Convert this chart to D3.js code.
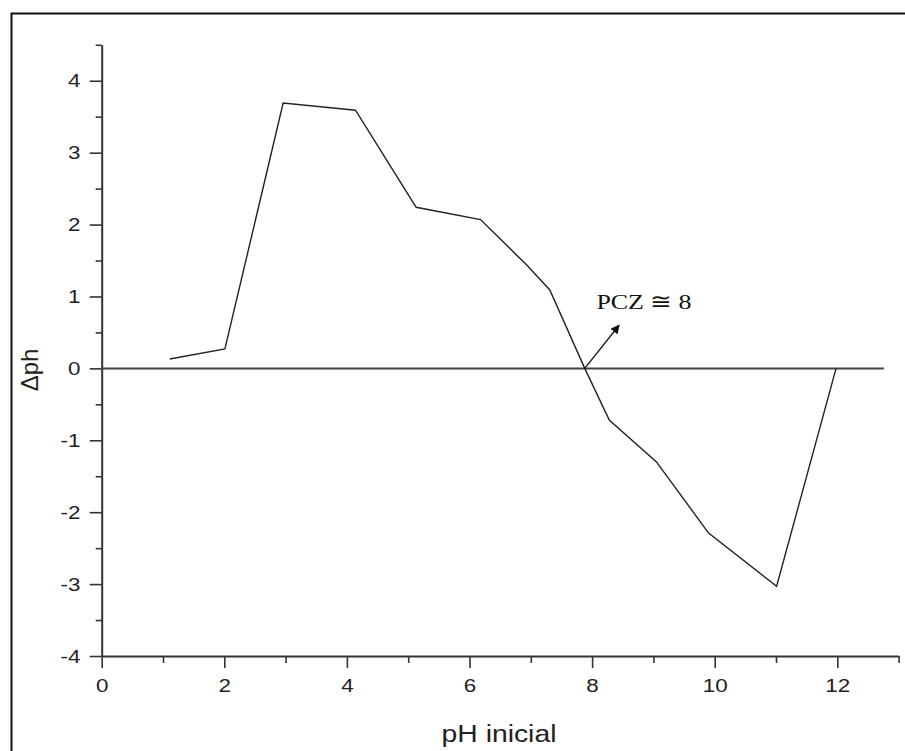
<!DOCTYPE html>
<html>
<head>
<meta charset="utf-8">
<script src="https://cdn.jsdelivr.net/npm/d3@7"></script>
<style>
  html, body { margin: 0; padding: 0; background: #fff; }
  svg { display: block; }
</style>
</head>
<body>
<svg id="chart" width="905" height="751"></svg>
<script>
// Initial pH vs. change in pH (point of zero charge determination)
const phInicial = [1.11, 2.01, 2.96, 4.14, 5.13, 6.18, 6.93, 7.31, 7.88, 8.28, 9.05, 9.90, 11.01, 11.98];
const deltaPh   = [0.13, 0.27, 3.69, 3.59, 2.24, 2.07, 1.44, 1.09, 0.00, -0.72, -1.30, -2.29, -3.03, 0.00];

const xMajorTicks = [0, 2, 4, 6, 8, 10, 12];
const xMinorTicks = [1, 3, 5, 7, 9, 11, 13];
const yMajorTicks = [-4, -3, -2, -1, 0, 1, 2, 3, 4];
const yMinorTicks = [-3.5, -2.5, -1.5, -0.5, 0.5, 1.5, 2.5, 3.5, 4.5];

const xTitle = "pH inicial";
const yTitle = "\u0394ph";
const pczLabel = "PCZ \u2245 8";
const pczPoint = [7.88, 0];
const pczArrowTip = [8.44, 0.60];
const pczTextPos = [8.07, 0.82];
const zeroLineEnd = 12.76;

const svg = d3.select("#chart");
const sans = "'Liberation Sans', Arial, sans-serif";
const serif = "'Liberation Serif', 'Times New Roman', serif";
const axisColor = "#333";
const textStretch = 1.18;
const plainNumber = d => String(d); // hyphen-minus, as printed on the axes

// outer frame
svg.append("rect")
  .attr("x", 11.5).attr("y", 13.5)
  .attr("width", 1000).attr("height", 1000)
  .attr("fill", "none").attr("stroke", "#111").attr("stroke-width", 2);

const x = d3.scaleLinear().domain([0, 13]).range([101.7, 898.6]);
const y = d3.scaleLinear().domain([-4, 4.5]).range([656, 44.8]);

const defs = svg.append("defs");
defs.append("marker")
  .attr("id", "arrowHead")
  .attr("viewBox", "0 0 10 10")
  .attr("refX", 9).attr("refY", 5)
  .attr("markerWidth", 9).attr("markerHeight", 9)
  .attr("markerUnits", "userSpaceOnUse")
  .attr("orient", "auto")
  .append("path").attr("d", "M0,0 L10,5 L0,10 Z").attr("fill", "#111");

// x axis: minor ticks, then labelled majors
const xAxisG = svg.append("g").attr("transform", `translate(0,${y(-4)})`);
xAxisG.append("g")
  .call(d3.axisBottom(x).tickValues(xMinorTicks).tickSize(7).tickSizeOuter(0).tickFormat(""))
  .call(g => g.select(".domain").remove());
xAxisG.append("g")
  .call(d3.axisBottom(x).tickValues(xMajorTicks).tickSize(12).tickSizeOuter(0).tickPadding(11).tickFormat(plainNumber))
  .call(g => g.selectAll("text")
    .attr("font-family", sans).attr("font-size", 19).attr("fill", "#222")
    .attr("transform", `scale(${textStretch},1)`));

// y axis
const yAxisG = svg.append("g").attr("transform", `translate(${x(0)},0)`);
yAxisG.append("g")
  .call(d3.axisLeft(y).tickValues(yMinorTicks).tickSize(6).tickSizeOuter(0).tickFormat(""))
  .call(g => g.select(".domain").remove());
yAxisG.append("g")
  .call(d3.axisLeft(y).tickValues(yMajorTicks).tickSize(12).tickSizeOuter(0).tickPadding(6).tickFormat(plainNumber))
  .call(g => g.selectAll("text")
    .attr("font-family", sans).attr("font-size", 19).attr("fill", "#222")
    .attr("transform", `scale(${textStretch},1)`));

svg.selectAll(".domain").attr("stroke", axisColor).attr("stroke-width", 2);
svg.selectAll(".tick line").attr("stroke", axisColor).attr("stroke-width", 1.6);

// zero reference line
svg.append("line")
  .attr("x1", x(0)).attr("x2", x(zeroLineEnd))
  .attr("y1", y(0)).attr("y2", y(0))
  .attr("stroke", "#444").attr("stroke-width", 2);

// data curve
const line = d3.line().x((d, i) => x(phInicial[i])).y(d => y(d));
svg.append("path")
  .datum(deltaPh)
  .attr("d", line)
  .attr("fill", "none")
  .attr("stroke", "#222")
  .attr("stroke-width", 1.4)
  .attr("stroke-linejoin", "miter");

// PZC annotation
svg.append("line")
  .attr("x1", x(pczPoint[0])).attr("y1", y(pczPoint[1]))
  .attr("x2", x(pczArrowTip[0])).attr("y2", y(pczArrowTip[1]))
  .attr("stroke", "#111").attr("stroke-width", 1.3)
  .attr("marker-end", "url(#arrowHead)");

svg.append("text")
  .attr("transform", `translate(${x(pczTextPos[0])},${y(pczTextPos[1])}) scale(${textStretch},1)`)
  .attr("font-family", serif).attr("font-size", 22).attr("fill", "#111")
  .text(pczLabel);

// axis titles
svg.append("text")
  .attr("transform", `translate(499,742) scale(${textStretch},1)`)
  .attr("text-anchor", "middle")
  .attr("font-family", sans).attr("font-size", 24).attr("fill", "#222")
  .text(xTitle);

svg.append("text")
  .attr("transform", `translate(38,370) rotate(-90)`)
  .attr("text-anchor", "middle")
  .attr("font-family", sans).attr("font-size", 24).attr("fill", "#222")
  .text(yTitle);
</script>
</body>
</html>
